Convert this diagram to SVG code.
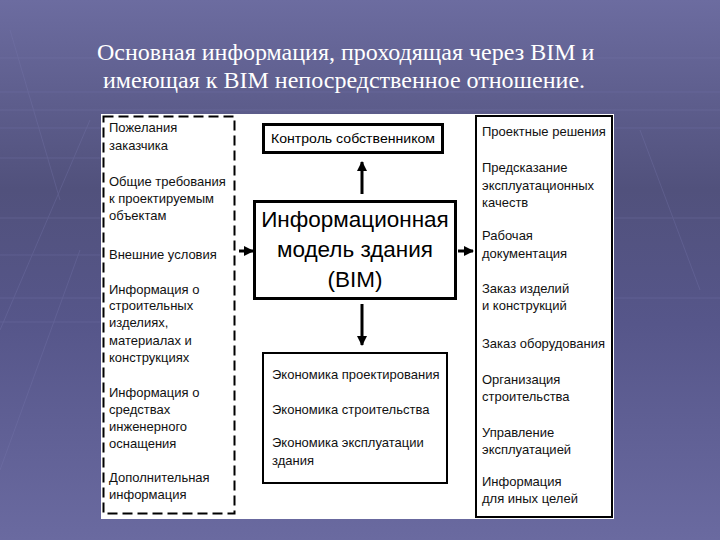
<svg xmlns="http://www.w3.org/2000/svg" width="720" height="540" viewBox="0 0 720 540">
<defs>
<linearGradient id="bg" x1="0" y1="0" x2="0" y2="1">
<stop offset="0" stop-color="#6c6ca0"/>
<stop offset="0.35" stop-color="#51517c"/>
<stop offset="0.6" stop-color="#56568a"/>
<stop offset="1" stop-color="#6a6aa0"/>
</linearGradient>
<marker id="ah" viewBox="0 0 10 10" refX="9" refY="5" markerWidth="3.4" markerHeight="3.4" orient="auto" markerUnits="strokeWidth">
<path d="M0,0 L10,5 L0,10 z" fill="#000"/>
</marker>
<style>
.t{font-family:"Liberation Sans",Arial,sans-serif;font-size:13px;fill:#111}
.title{font-family:"Liberation Serif","Times New Roman",serif;font-size:24px;fill:#fff}
.big{font-family:"Liberation Sans",Arial,sans-serif;font-size:22.5px;fill:#000;text-anchor:middle}
.ar{stroke:#000;stroke-width:3;fill:none;marker-end:url(#ah)}
</style>
</defs>
<rect width="720" height="540" fill="url(#bg)"/>
<g stroke="#7a7ab0" stroke-width="1" opacity="0.3">
<line x1="0" y1="58" x2="720" y2="58"/>
<line x1="0" y1="92" x2="720" y2="92"/>
<line x1="0" y1="110" x2="720" y2="110"/>
<line x1="0" y1="128" x2="100" y2="128"/>
<line x1="0" y1="158" x2="100" y2="158"/>
<line x1="0" y1="218" x2="100" y2="218"/>
<line x1="0" y1="255" x2="100" y2="255"/>
<line x1="0" y1="298" x2="100" y2="298"/>
<line x1="0" y1="322" x2="100" y2="322"/>
<line x1="615" y1="128" x2="720" y2="128"/>
<line x1="615" y1="218" x2="720" y2="218"/>
<line x1="615" y1="298" x2="720" y2="298"/>
<line x1="10" y1="30" x2="60" y2="200"/>
<line x1="90" y1="120" x2="0" y2="330"/>
<line x1="80" y1="250" x2="0" y2="470"/>
<line x1="640" y1="130" x2="700" y2="290"/>
</g>
<rect x="101" y="114" width="513" height="405" fill="#fff"/>
<g id="title">
<text class="title" x="97" y="60">Основная информация, проходящая через BIM и</text>
<text class="title" x="103" y="88">имеющая к BIM непосредственное отношение.</text>
</g>
<g id="inputs">
<rect x="103.5" y="116.5" width="131" height="397" fill="none" stroke="#000" stroke-width="2" stroke-dasharray="10,5"/>
<text class="t" x="109" y="132">Пожелания</text>
<text class="t" x="109" y="150">заказчика</text>
<text class="t" x="109" y="186">Общие требования</text>
<text class="t" x="109" y="203">к проектируемым</text>
<text class="t" x="109" y="220">объектам</text>
<text class="t" x="109" y="259">Внешние условия</text>
<text class="t" x="109" y="294">Информация о</text>
<text class="t" x="109" y="310">строительных</text>
<text class="t" x="109" y="327">изделиях,</text>
<text class="t" x="109" y="345">материалах и</text>
<text class="t" x="109" y="362">конструкциях</text>
<text class="t" x="109" y="397">Информация о</text>
<text class="t" x="109" y="414">средствах</text>
<text class="t" x="109" y="431">инженерного</text>
<text class="t" x="109" y="448">оснащения</text>
<text class="t" x="109" y="482">Дополнительная</text>
<text class="t" x="109" y="499">информация</text>
</g>
<g id="control">
<rect x="263.5" y="124.5" width="179" height="28" fill="#fff" stroke="#000" stroke-width="3"/>
<text x="353" y="143" text-anchor="middle" font-family="'Liberation Sans',Arial,sans-serif" font-size="13" textLength="164" lengthAdjust="spacingAndGlyphs" fill="#000">Контроль собственником</text>
</g>
<g id="bim">
<rect x="254.5" y="201.5" width="201" height="97" fill="#fff" stroke="#000" stroke-width="3"/>
<text class="big" x="355" y="227">Информационная</text>
<text class="big" x="355" y="257">модель здания</text>
<text class="big" x="355" y="287">(BIM)</text>
</g>
<g id="economics">
<rect x="263" y="353" width="184" height="130" fill="#fff" stroke="#000" stroke-width="2"/>
<text class="t" x="272" y="379">Экономика проектирования</text>
<text class="t" x="272" y="414">Экономика строительства</text>
<text class="t" x="272" y="447">Экономика эксплуатации</text>
<text class="t" x="272" y="465">здания</text>
</g>
<g id="outputs">
<rect x="476" y="116" width="136" height="401" fill="#fff" stroke="#000" stroke-width="2"/>
<text class="t" x="482" y="136">Проектные решения</text>
<text class="t" x="482" y="172">Предсказание</text>
<text class="t" x="482" y="190">эксплуатационных</text>
<text class="t" x="482" y="207">качеств</text>
<text class="t" x="482" y="240">Рабочая</text>
<text class="t" x="482" y="258">документация</text>
<text class="t" x="482" y="293">Заказ изделий</text>
<text class="t" x="482" y="310">и конструкций</text>
<text class="t" x="482" y="348">Заказ оборудования</text>
<text class="t" x="482" y="384">Организация</text>
<text class="t" x="482" y="401">строительства</text>
<text class="t" x="482" y="437">Управление</text>
<text class="t" x="482" y="454">эксплуатацией</text>
<text class="t" x="482" y="486">Информация</text>
<text class="t" x="482" y="503">для иных целей</text>
</g>
<g id="connectors">
<line class="ar" x1="362" y1="194" x2="362" y2="162"/>
<line class="ar" x1="239" y1="251" x2="253" y2="251"/>
<line class="ar" x1="458" y1="251" x2="473" y2="251"/>
<line class="ar" x1="362" y1="304" x2="362" y2="345"/>
</g>
</svg>
